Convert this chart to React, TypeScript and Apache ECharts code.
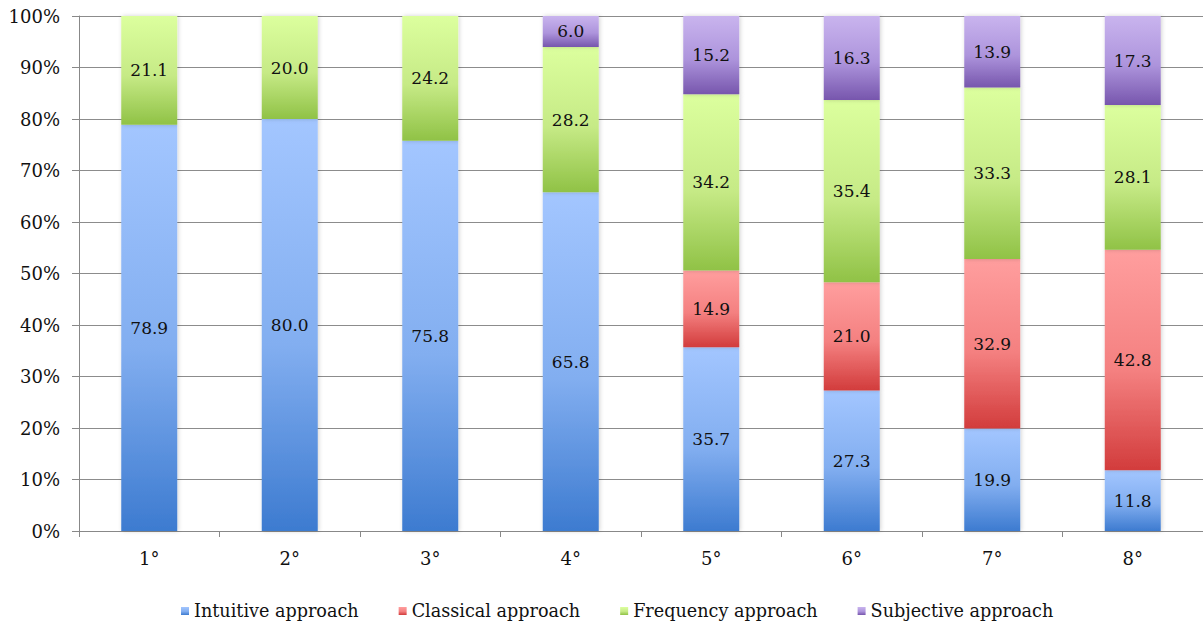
import React, { useEffect, useRef } from "react";
import * as echarts from "echarts";

const grades = ["1°", "2°", "3°", "4°", "5°", "6°", "7°", "8°"];
const intuitive = [78.9, 80.0, 75.8, 65.8, 35.7, 27.3, 19.9, 11.8];
const classical = [null, null, null, null, 14.9, 21.0, 32.9, 42.8];
const frequency = [21.1, 20.0, 24.2, 28.2, 34.2, 35.4, 33.3, 28.1];
const subjective = [null, null, null, 6.0, 15.2, 16.3, 13.9, 17.3];
const seriesNames = ["Intuitive approach", "Classical approach", "Frequency approach", "Subjective approach"];

const FONT = "DejaVu Serif";

function grad(top: string, mid: string, bottom: string) {
  return new echarts.graphic.LinearGradient(0, 0, 0, 1, [
    { offset: 0, color: top },
    { offset: 0.55, color: mid },
    { offset: 1, color: bottom },
  ]);
}

const fills = [
  grad("#a3c6ff", "#82aef0", "#3d7bd0"),
  grad("#ff9e9e", "#f48080", "#d23c3c"),
  grad("#dcff9e", "#c6ea86", "#90c246"),
  grad("#c9b4ee", "#ad94dc", "#7756ad"),
];

export default function App() {
  const ref = useRef<HTMLDivElement>(null);

  useEffect(() => {
    document.body.style.margin = "0";
    const chart = echarts.init(ref.current!, null, { renderer: "svg" });
    const datasets = [intuitive, classical, frequency, subjective];
    chart.setOption({
      animation: false,
      textStyle: { fontFamily: FONT },
      grid: { left: 79, top: 16, width: 1127, height: 515, containLabel: false },
      legend: {
        data: seriesNames,
        left: 176,
        top: 597,
        itemWidth: 8,
        itemHeight: 8,
        itemGap: 40,
        icon: "rect",
        textStyle: { fontFamily: FONT, fontSize: 17.6, color: "#111" },
      },
      xAxis: {
        type: "category",
        data: grades,
        axisLine: { lineStyle: { color: "#888", width: 1 } },
        axisTick: { show: true, length: 6, lineStyle: { color: "#888" } },
        axisLabel: { fontFamily: FONT, fontSize: 18, color: "#111", margin: 18 },
      },
      yAxis: {
        type: "value",
        min: 0,
        max: 100,
        interval: 10,
        axisLine: { show: true, lineStyle: { color: "#888", width: 1 } },
        axisTick: { show: true, length: 7, lineStyle: { color: "#888" } },
        splitLine: { lineStyle: { color: "#8c8c8c", width: 1 } },
        axisLabel: { formatter: "{value}%", fontFamily: FONT, fontSize: 18, color: "#111", margin: 19 },
      },
      series: datasets.map((d, i) => ({
        name: seriesNames[i],
        type: "bar",
        stack: "total",
        barWidth: 56,
        data: d,
        itemStyle: {
          color: fills[i],
          shadowBlur: 4,
          shadowColor: "rgba(0,0,0,0.18)",
          shadowOffsetX: 1,
        },
        label: {
          show: true,
          position: "inside",
          formatter: (p: any) => (p.value == null ? "" : Number(p.value).toFixed(1)),
          fontFamily: FONT,
          fontSize: 17,
          color: "#111",
        },
      })),
    });
    return () => chart.dispose();
  }, []);

  return <div ref={ref} style={{ width: 1203, height: 626 }} />;
}
